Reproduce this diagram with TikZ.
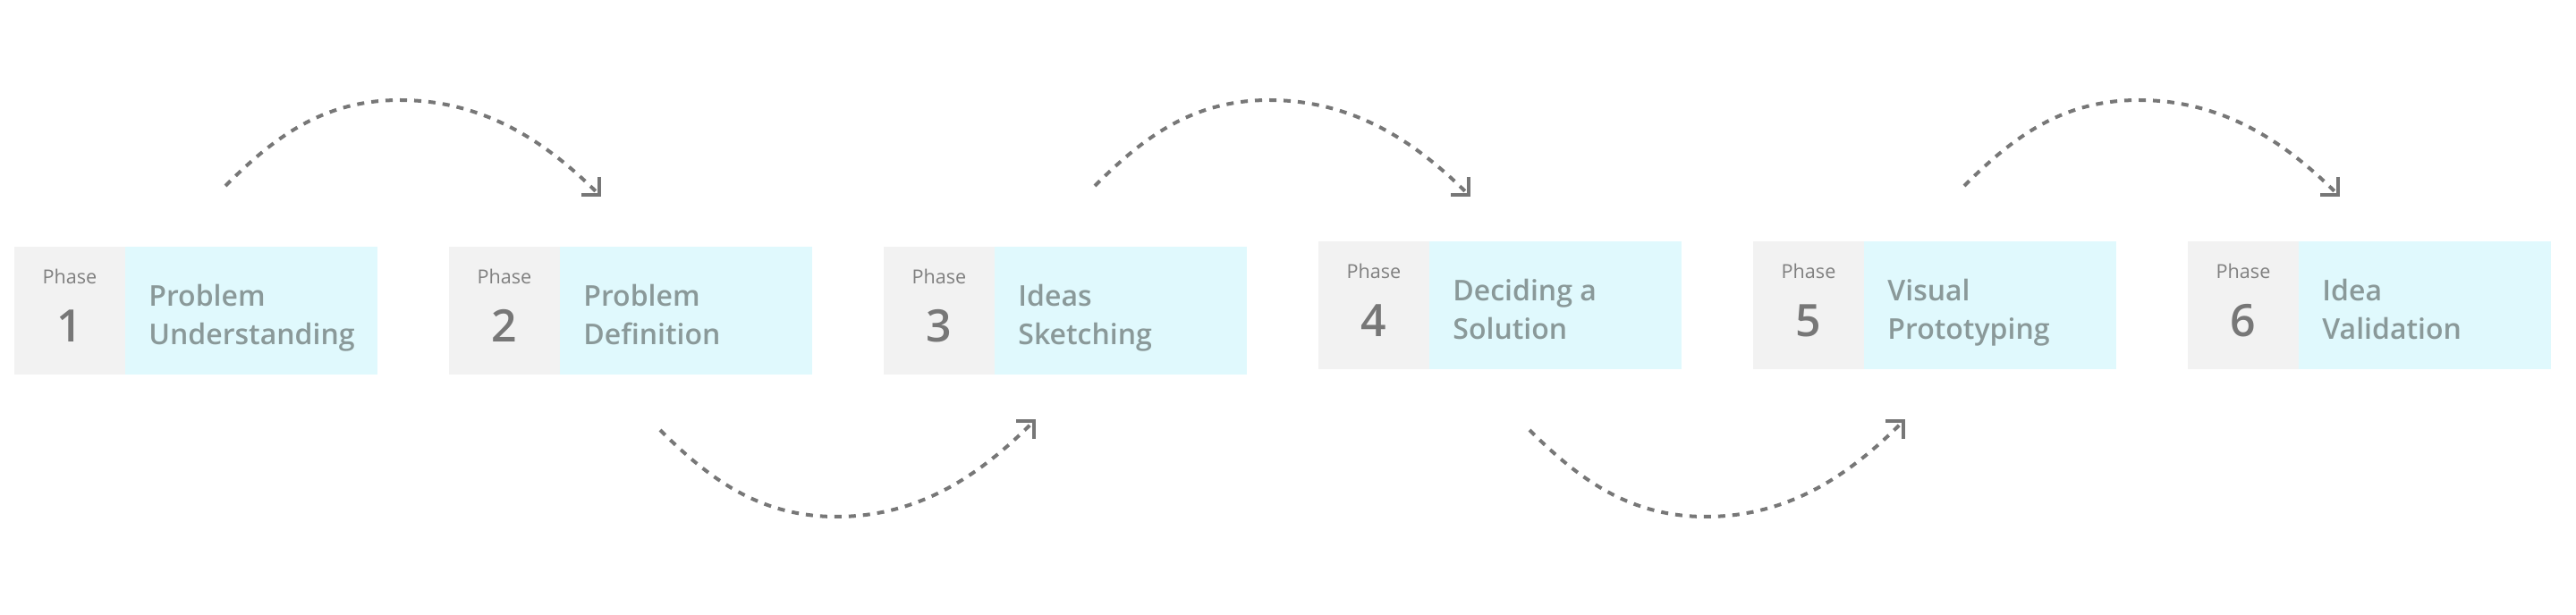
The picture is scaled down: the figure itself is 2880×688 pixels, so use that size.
\documentclass[tikz,border=0pt]{standalone}
\usepackage{fontspec}
\setmainfont{Open Sans}
\newfontfamily\semib{Open Sans Semibold}
\usetikzlibrary{arrows.meta}
\definecolor{boxgray}{HTML}{F2F2F2}
\definecolor{boxcyan}{HTML}{E0F9FD}
\definecolor{numgray}{HTML}{777777}
\definecolor{phgray}{HTML}{808080}
\definecolor{txtgray}{HTML}{8A9999}
\definecolor{arrgray}{HTML}{777777}
\tikzset{
  numcell/.style={fill=boxgray, minimum width=62pt, minimum height=71.5pt, inner sep=0pt, anchor=north west},
  titlecell/.style={fill=boxcyan, minimum width=141pt, minimum height=71.5pt, inner sep=0pt, anchor=north west},
  phaselbl/.style={text=phgray, inner sep=0pt, anchor=base, font=\fontsize{10.8}{12}\selectfont},
  digitlbl/.style={text=numgray, inner sep=0pt, anchor=base, font=\fontsize{25}{28}\semib},
  titlelbl/.style={text=txtgray, inner sep=0pt, anchor=base west, font=\fontsize{16}{21.5}\semib},
  conn/.style={draw=arrgray, line width=2pt, dash pattern=on 4pt off 4pt,
    -{Straight Barb[angle=90:10pt, line cap=butt, line join=miter]}}
}
\begin{document}
\begin{tikzpicture}[x=0.5pt,y=-0.5pt]
\fill[white] (0,0) rectangle (2880,688);
\useasboundingbox (0,0) rectangle (2880,688);
\foreach \i/\L/\T/\a/\b in {1/16/276/Problem/Understanding, 2/502/276/Problem/Definition, 3/988/276/Ideas/Sketching, 4/1474/270/Deciding a/Solution, 5/1960/270/Visual/Prototyping, 6/2446/270/Idea/Validation}{
  \node[numcell] (n\i) at (\L,\T) {};
  \node[titlecell] (t\i) at (\L+124,\T) {};
  \node[phaselbl] (p\i) at (\L+62,\T+42) {Phase};
  \node[digitlbl] (d\i) at (\L+62,\T+107) {\i};
  \node[titlelbl] (a\i) at (\L+150,\T+67) {\a};
  \node[titlelbl] (b\i) at (\L+150,\T+110) {\b};
}
\foreach \k/\dx in {1/0, 2/972, 3/1944}{
  \coordinate (u\k s) at (252+\dx,208);
  \coordinate (u\k p) at (447+\dx,112);
  \coordinate (u\k e) at (672+\dx,220);
  \draw[conn] (u\k s) .. controls +(55,-55) and +(-85,0) .. (u\k p)
    .. controls +(95,0) and +(-60,-60) .. (u\k e);
}
\foreach \k/\dx in {1/0, 2/972}{
  \coordinate (l\k s) at (738+\dx,481);
  \coordinate (l\k p) at (935+\dx,578);
  \coordinate (l\k e) at (1158+\dx,469);
  \draw[conn] (l\k s) .. controls +(55,55) and +(-85,0) .. (l\k p)
    .. controls +(95,0) and +(-60,60) .. (l\k e);
}
\end{tikzpicture}
\end{document}
